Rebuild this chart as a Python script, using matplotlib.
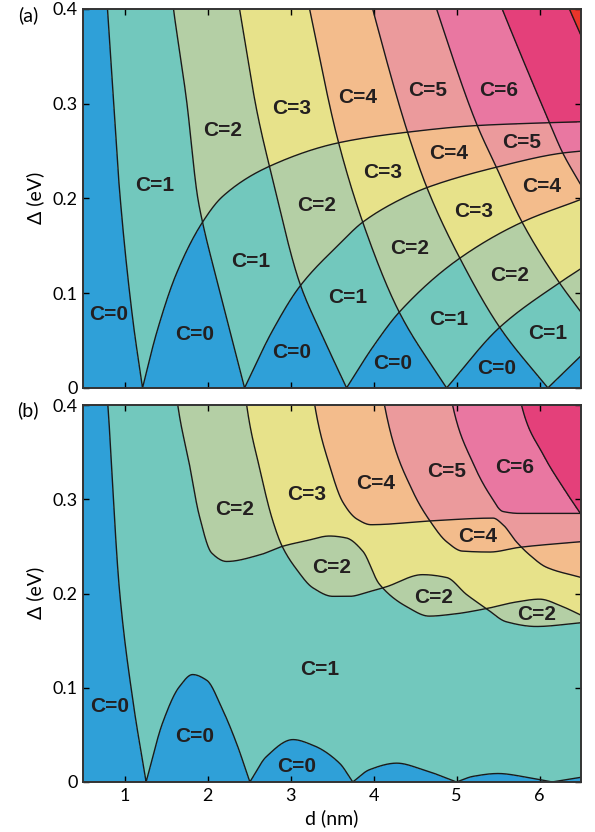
import numpy as np
import matplotlib.pyplot as plt
from matplotlib.colors import ListedColormap

# colour for each Chern number C = 0 ... 8
C_COLORS = ['#2fa0d8', '#72c8bd', '#b4cfa5', '#e7e28a', '#f3bc8c',
            '#eb9a9c', '#e977a1', '#e4407a', '#e8352a']

# ---- panel (a): phase boundaries, each a V with a left and a right branch
# (d in nm, Delta in eV)
A_V1 = [([0.72, 0.795, 0.865, 0.94, 1.096, 1.217], [0.5, 0.4, 0.305, 0.209, 0.075, 0.0]),
        ([1.217, 1.386, 1.627, 1.94, 2.18, 2.747, 3.59, 4.41, 5.25, 6.12, 6.5],
         [0.0, 0.058, 0.121, 0.175, 0.202, 0.234, 0.259, 0.270, 0.277, 0.280, 0.281])]
A_V2 = [([1.45, 1.59, 1.747, 1.88, 1.94, 2.145, 2.446], [0.5, 0.4, 0.304, 0.202, 0.175, 0.103, 0.0]),
        ([2.446, 2.78, 3.11, 3.59, 3.87, 4.37, 4.66, 5.48, 6.28, 6.5],
         [0.0, 0.060, 0.107, 0.152, 0.175, 0.201, 0.212, 0.233, 0.248, 0.250])]
A_V3 = [([2.2, 2.386, 2.60, 2.78, 3.11, 3.40, 3.675], [0.5, 0.4, 0.290, 0.222, 0.111, 0.052, 0.0]),
        ([3.675, 3.99, 4.31, 5.04, 5.79, 6.5], [0.0, 0.043, 0.080, 0.137, 0.175, 0.199])]
A_V4 = [([3.0, 3.23, 3.57, 3.87, 4.31, 4.88], [0.5, 0.4, 0.262, 0.175, 0.080, 0.0]),
        ([4.88, 5.52, 6.24, 6.5], [0.0, 0.064, 0.111, 0.126])]
A_V5 = [([3.7, 3.99, 4.41, 4.65, 5.04, 5.52, 6.10], [0.5, 0.4, 0.270, 0.210, 0.137, 0.064, 0.0]),
        ([6.10, 6.30, 6.5], [0.0, 0.017, 0.034])]
A_V6 = [([4.4, 4.76, 5.25, 5.48, 5.79, 6.24, 6.5], [0.5, 0.4, 0.277, 0.233, 0.175, 0.111, 0.080])]
A_V7 = [([5.1, 5.55, 6.12, 6.28, 6.5], [0.5, 0.4, 0.280, 0.248, 0.214])]
A_V8 = [([5.9, 6.36, 6.5], [0.5, 0.4, 0.372])]
A_CURVES = [A_V1, A_V2, A_V3, A_V4, A_V5, A_V6, A_V7, A_V8]

A_LABEL_D = [0.81, 1.36, 2.18, 3.01, 3.81, 4.65, 5.51,
             1.84, 2.52, 3.31, 4.11, 4.91, 5.78,
             3.01, 3.69, 4.44, 5.21, 6.02,
             4.23, 4.91, 5.64, 5.48, 6.10]
A_LABEL_DELTA = [0.078, 0.214, 0.272, 0.295, 0.307, 0.314, 0.314,
                 0.056, 0.134, 0.193, 0.227, 0.247, 0.259,
                 0.037, 0.095, 0.147, 0.186, 0.213,
                 0.026, 0.072, 0.119, 0.021, 0.058]
A_LABEL_C = [0, 1, 2, 3, 4, 5, 6,
             0, 1, 2, 3, 4, 5,
             0, 1, 2, 3, 4,
             0, 1, 2, 0, 1]

# ---- panel (b): phase boundaries
B_LOW = [([0.65, 0.80, 0.94, 1.10, 1.26], [0.6, 0.401, 0.203, 0.087, 0.0]),
         ([1.26, 1.46, 1.66, 1.82, 1.99, 2.18, 2.35, 2.51],
          [0.0, 0.063, 0.101, 0.114, 0.108, 0.077, 0.041, 0.0]),
         ([2.51, 2.71, 3.03, 3.27, 3.59, 3.75], [0.0, 0.027, 0.045, 0.039, 0.020, 0.0]),
         ([3.75, 3.95, 4.28, 4.60, 5.0], [0.0, 0.013, 0.020, 0.013, 0.0]),
         ([5.0, 5.2, 5.5, 5.85, 6.15], [0.0, 0.006, 0.009, 0.005, 0.0]),
         ([6.15, 6.5], [0.0, 0.005])]
B_A = [([1.45, 1.64, 1.78, 1.90, 2.05, 2.23, 2.63, 2.90, 3.19, 3.47, 3.67, 3.87, 4.07,
         4.40, 4.67, 4.95, 5.36, 5.72, 6.0, 6.28, 6.5],
        [0.6, 0.401, 0.338, 0.283, 0.243, 0.234, 0.241, 0.250, 0.256, 0.261, 0.259, 0.245, 0.210,
         0.186, 0.176, 0.178, 0.184, 0.191, 0.194, 0.186, 0.177])]
B_R = [([2.30, 2.47, 2.63, 2.78, 2.90, 3.07, 3.27, 3.51, 3.71, 3.95, 4.15, 4.59, 4.88,
         5.12, 5.36, 5.60, 5.96, 6.5],
        [0.6, 0.401, 0.332, 0.279, 0.250, 0.226, 0.206, 0.197, 0.197, 0.202, 0.207, 0.220, 0.217,
         0.199, 0.184, 0.170, 0.165, 0.169])]
B_T = [([3.1, 3.29, 3.47, 3.63, 3.80, 3.97, 4.68, 5.44, 5.56, 5.72, 5.88, 6.08, 6.5],
        [0.6, 0.401, 0.336, 0.297, 0.279, 0.273, 0.277, 0.280, 0.273, 0.255, 0.241, 0.228, 0.217])]
B_U = [([3.95, 4.13, 4.47, 4.68, 4.88, 5.07, 5.40, 5.76, 6.5],
        [0.6, 0.401, 0.309, 0.277, 0.255, 0.245, 0.244, 0.249, 0.255])]
B_W = [([4.75, 4.95, 5.19, 5.40, 5.56, 5.76, 6.5],
        [0.6, 0.401, 0.340, 0.305, 0.287, 0.285, 0.285])]
B_X = [([5.6, 5.78, 6.04, 6.28, 6.5], [0.6, 0.401, 0.348, 0.313, 0.284])]
B_CURVES = [B_LOW, B_A, B_R, B_T, B_U, B_W, B_X]

B_LABEL_D = [0.82, 1.84, 3.07, 3.35, 2.33, 3.19, 3.49, 4.03, 4.88, 5.70, 5.25, 4.72, 5.96]
B_LABEL_DELTA = [0.080, 0.048, 0.016, 0.119, 0.289, 0.305, 0.228, 0.317, 0.329, 0.334,
                 0.260, 0.196, 0.178]
B_LABEL_C = [0, 0, 0, 1, 2, 3, 2, 4, 5, 6, 4, 2, 2]


def pchip(xs, ys, xq):
    xs = np.asarray(xs, float)
    ys = np.asarray(ys, float)
    xq = np.clip(xq, xs[0], xs[-1])
    h = np.diff(xs)
    delta = np.diff(ys) / h
    m = np.zeros_like(ys)
    m[0], m[-1] = delta[0], delta[-1]
    for k in range(1, len(xs) - 1):
        if delta[k - 1] * delta[k] > 0:
            w1 = 2 * h[k] + h[k - 1]
            w2 = h[k] + 2 * h[k - 1]
            m[k] = (w1 + w2) / (w1 / delta[k - 1] + w2 / delta[k])
    i = np.clip(np.searchsorted(xs, xq) - 1, 0, len(xs) - 2)
    t = (xq - xs[i]) / h[i]
    return ((2 * t**3 - 3 * t**2 + 1) * ys[i] + (t**3 - 2 * t**2 + t) * h[i] * m[i]
            + (-2 * t**3 + 3 * t**2) * ys[i + 1] + (t**3 - t**2) * h[i] * m[i + 1])


def evaluate(segments, xq):
    out = np.empty_like(xq)
    out[xq <= segments[0][0][0]] = segments[0][1][0]
    out[xq >= segments[-1][0][-1]] = segments[-1][1][-1]
    for xs, ys in segments:
        mask = (xq >= xs[0]) & (xq <= xs[-1])
        out[mask] = pchip(xs, ys, xq[mask])
    return out


def draw_panel(ax, curves, lab_d, lab_delta, lab_c):
    d = np.linspace(0.5, 6.5, 1500)
    delta = np.linspace(0, 0.4, 800)
    dd, DD = np.meshgrid(d, delta)
    chern = np.zeros_like(dd)
    for c in curves:
        chern += (DD > evaluate(c, d)[None, :])
    ax.contourf(dd, DD, chern, levels=np.arange(-0.5, 9.5, 1),
                cmap=ListedColormap(C_COLORS))
    dl = np.linspace(0.5, 6.5, 6000)
    for c in curves:
        ax.plot(dl, evaluate(c, dl), color='#1a1a1a', lw=1.0)
    for x, y, c in zip(lab_d, lab_delta, lab_c):
        ax.text(x, y, f'C={c}', ha='center', va='center', fontsize=15,
                fontweight='bold', family='Liberation Sans', color='#231f20')
    ax.set_xlim(0.5, 6.5)
    ax.set_ylim(0, 0.4)
    ax.set_xticks([1, 2, 3, 4, 5, 6])
    ax.set_yticks([0, 0.1, 0.2, 0.3, 0.4])
    ax.set_yticklabels(['0', '0.1', '0.2', '0.3', '0.4'])
    ax.tick_params(direction='in', top=True, right=True, length=4, width=1,
                   labelsize=13, pad=4)
    for lab in ax.get_xticklabels() + ax.get_yticklabels():
        lab.set_family('Lato')
    for s in ax.spines.values():
        s.set_linewidth(1.4)
        s.set_color('#333333')


fig = plt.figure(figsize=(5.95, 8.32), dpi=100)
ax1 = fig.add_axes([0.1395, 0.5337, 0.8370, 0.4555])
ax2 = fig.add_axes([0.1395, 0.0601, 0.8370, 0.4531])

draw_panel(ax1, A_CURVES, A_LABEL_D, A_LABEL_DELTA, A_LABEL_C)
draw_panel(ax2, B_CURVES, B_LABEL_D, B_LABEL_DELTA, B_LABEL_C)
ax1.set_xticklabels([])

fig.text(0.047, 0.982, '(a)', ha='center', va='center', fontsize=14, family='Lato')
fig.text(0.047, 0.507, '(b)', ha='center', va='center', fontsize=14, family='Lato')
fig.text(0.059, 0.762, 'Δ (eV)', ha='center', va='center', rotation=90, fontsize=14,
         family=['Lato', 'DejaVu Sans'])
fig.text(0.059, 0.287, 'Δ (eV)', ha='center', va='center', rotation=90, fontsize=14,
         family=['Lato', 'DejaVu Sans'])
fig.text(0.557, 0.017, 'd (nm)', ha='center', va='center', fontsize=14, family='Lato')

fig.savefig('out.png', dpi=100)
